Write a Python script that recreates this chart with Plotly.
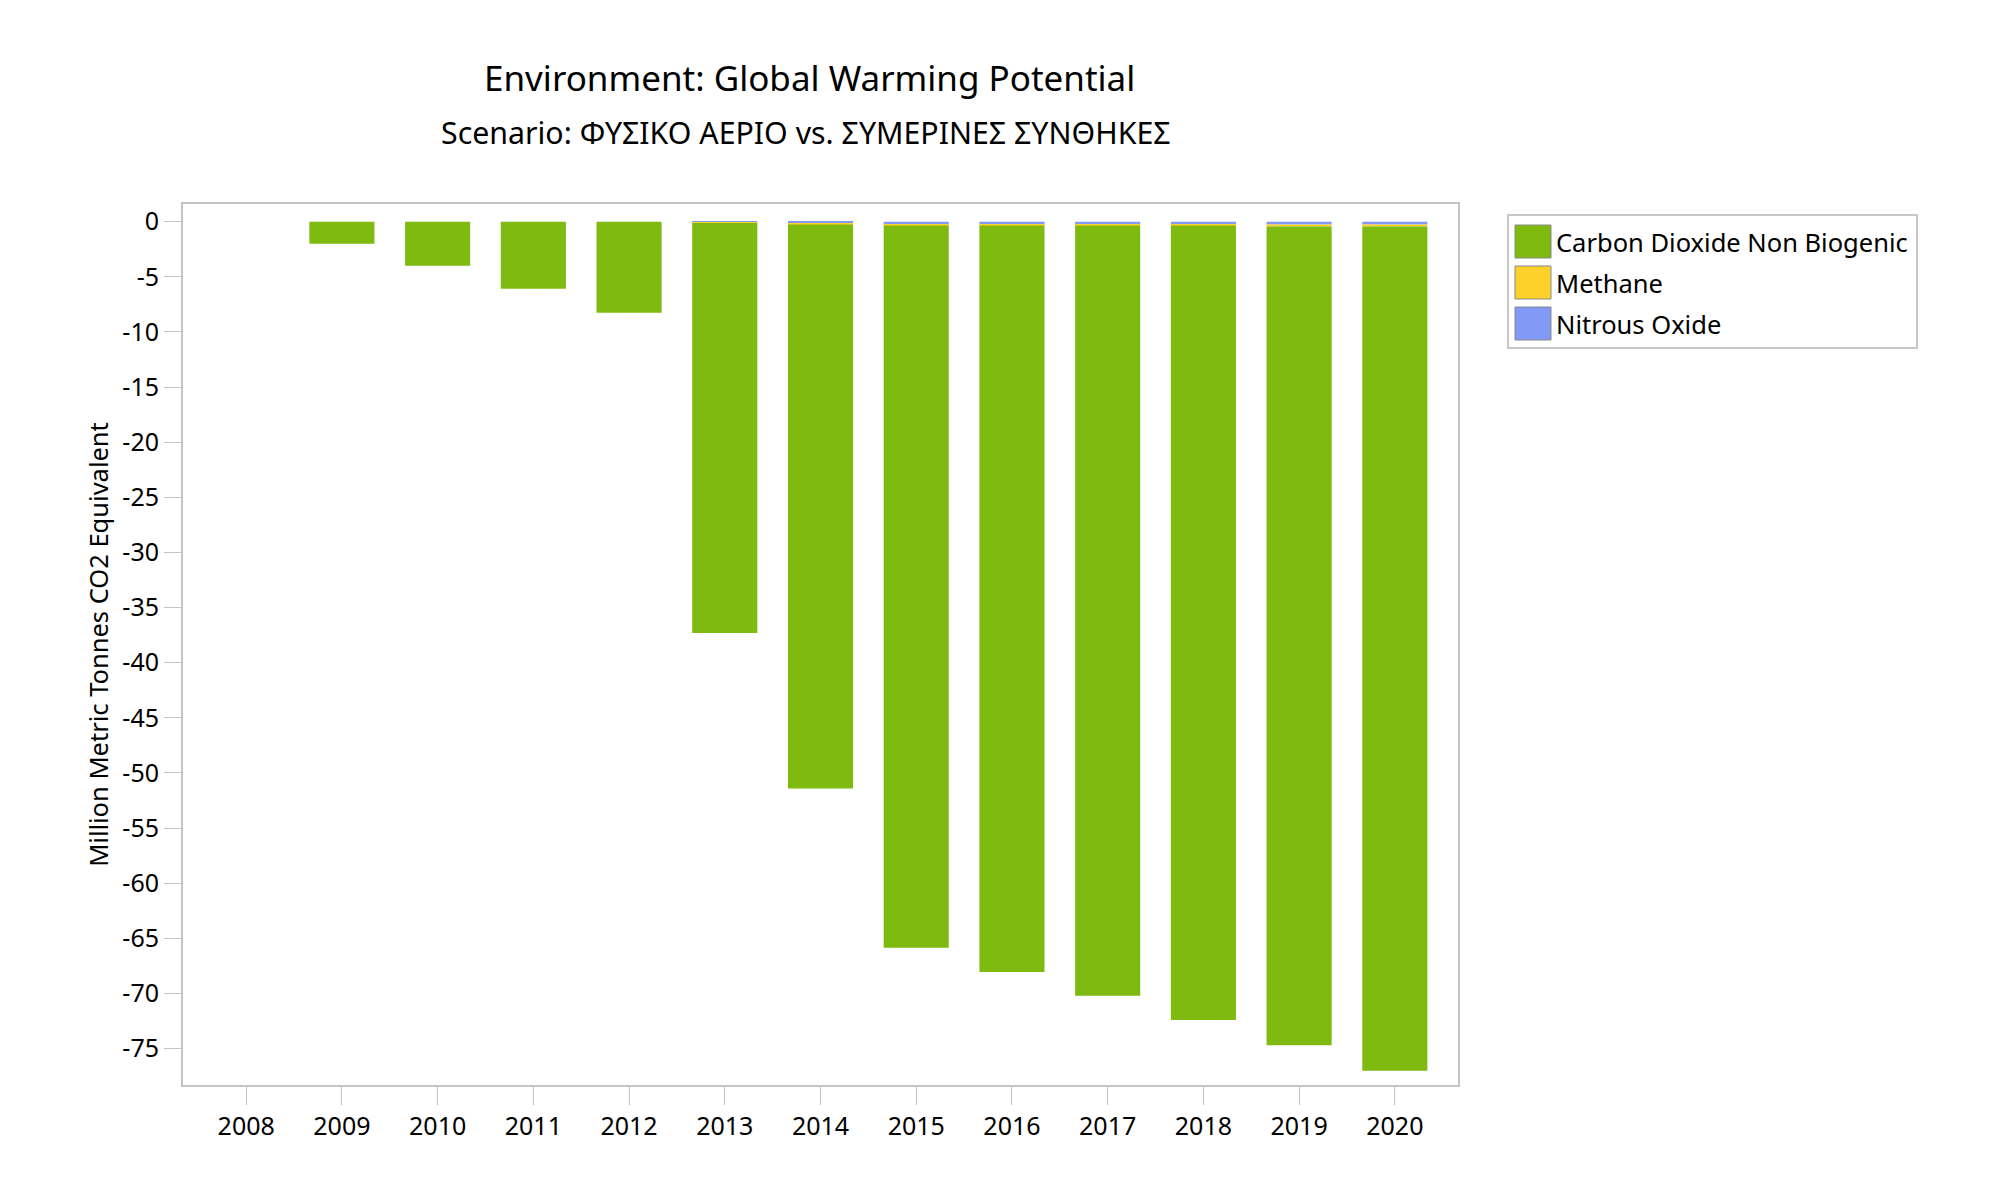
import plotly.graph_objects as go

years = ["2008", "2009", "2010", "2011", "2012", "2013", "2014",
         "2015", "2016", "2017", "2018", "2019", "2020"]
co2 = [0, -2.0, -4.0, -6.08, -8.26, -37.18, -51.15,
       -65.51, -67.72, -69.86, -72.06, -74.25, -76.55]
methane = [0, 0, 0, 0, 0, -0.04, -0.10,
           -0.10, -0.10, -0.10, -0.10, -0.20, -0.20]
nitrous = [0, 0, 0, 0, 0, -0.08, -0.15,
           -0.24, -0.24, -0.24, -0.24, -0.25, -0.25]
series_names = ["Carbon Dioxide Non Biogenic", "Methane", "Nitrous Oxide"]
colors = ["#7EBA0F", "#FCD12A", "#8299F8"]
y_tick_vals = [0, -5, -10, -15, -20, -25, -30, -35, -40, -45, -50, -55, -60, -65, -70, -75]
y_tick_text = ["0", "-5", "-10", "-15", "-20", "-25", "-30", "-35", "-40", "-45",
               "-50", "-55", "-60", "-65", "-70", "-75"]

FONT = "Noto Sans"
W, H = 2000, 1200
OFF = 8  # page body margin
L, R, T, B = 183 - OFF, 1458 - OFF, 204 - OFF, 1085 - OFF  # plot area in figure pixels


def px_x(p):
    return (p - OFF - L) / (R - L)


def px_y(p):
    return (B - (p - OFF)) / (B - T)


fig = go.Figure()
# stacking order from zero downward: nitrous, methane, co2
for vals, name, col in [(nitrous, series_names[2], colors[2]),
                        (methane, series_names[1], colors[1]),
                        (co2, series_names[0], colors[0])]:
    fig.add_trace(go.Bar(x=years, y=vals, name=name, marker_color=col,
                         marker_line_width=0, showlegend=False))

shapes = []
annotations = []
# custom legend (coordinates in screenshot pixels)
shapes.append(dict(type="rect", xref="paper", yref="paper",
                   x0=px_x(1508), x1=px_x(1917), y0=px_y(348), y1=px_y(215),
                   line=dict(color="#c8c8c8", width=2), fillcolor="white"))
for i, (name, col) in enumerate(zip(series_names, colors)):
    top = 225 + i * 41
    shapes.append(dict(type="rect", xref="paper", yref="paper",
                       x0=px_x(1515), x1=px_x(1551), y0=px_y(top + 33), y1=px_y(top),
                       line=dict(color="#8a8a8a", width=1), fillcolor=col))
    annotations.append(dict(xref="paper", yref="paper", x=px_x(1554), y=px_y(top + 17),
                            text=name, showarrow=False, xanchor="left", yanchor="middle",
                            font=dict(family=FONT, size=25.5, color="black")))

# titles
annotations.append(dict(xref="paper", yref="paper", x=px_x(809), y=px_y(77),
                        text="Environment: Global Warming Potential", showarrow=False,
                        xanchor="center", yanchor="middle",
                        font=dict(family=FONT, size=35, color="black")))
annotations.append(dict(xref="paper", yref="paper", x=px_x(806), y=px_y(132),
                        text="Scenario: ΦΥΣΙΚΟ ΑΕΡΙΟ vs. ΣΥΜΕΡΙΝΕΣ ΣΥΝΘΗΚΕΣ", showarrow=False,
                        xanchor="center", yanchor="middle",
                        font=dict(family=FONT, size=30.3, color="black")))

fig.update_layout(
    width=W, height=H,
    barmode="relative", bargap=0.32,
    plot_bgcolor="white", paper_bgcolor="white",
    margin=dict(l=L, r=W - R, t=T, b=H - B, autoexpand=False),
    font=dict(family=FONT, size=25, color="black"),
    shapes=shapes, annotations=annotations,
    showlegend=False,
)
fig.update_xaxes(
    type="category", range=[-0.66, 12.66],
    showline=True, linecolor="#c4c4c4", linewidth=2, mirror=True,
    ticks="outside", ticklen=18, tickcolor="#c4c4c4", tickwidth=1,
    showgrid=False, zeroline=False,
    tickfont=dict(family=FONT, size=25, color="black"),
)
fig.update_yaxes(
    range=[-78.3, 1.6],
    tickvals=y_tick_vals, ticktext=y_tick_text,
    showline=True, linecolor="#c4c4c4", linewidth=2, mirror=True,
    ticks="outside", ticklen=17, tickcolor="#c4c4c4", tickwidth=1,
    showgrid=False, zeroline=False,
    tickfont=dict(family=FONT, size=25, color="black"),
    title=dict(text="Million Metric Tonnes CO2 Equivalent", standoff=6,
               font=dict(family=FONT, size=25.5, color="black")),
)

fig.write_html("out.html")
